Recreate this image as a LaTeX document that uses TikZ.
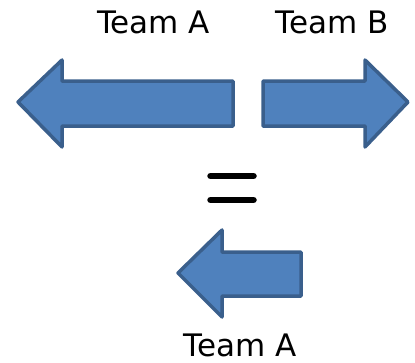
\documentclass[tikz,border=0pt]{standalone}
\usepackage{fontspec}
\setmainfont{DejaVu Sans}
\definecolor{arrowfill}{HTML}{4F81BD}
\definecolor{arrowline}{HTML}{3A5F8C}
\tikzset{
  arrowshape/.style={fill=arrowfill, draw=arrowline, line width=3.5pt, line join=round},
  teamlabel/.style={anchor=base, inner sep=0pt, text depth=0pt, font=\fontsize{31}{36}\selectfont},
  eqbar/.style={line width=6.5pt, line cap=round}
}
\begin{document}
\begin{tikzpicture}[x=1pt, y=-1pt]
  \useasboundingbox (0,0) rectangle (415,362);

  % labels
  \node[teamlabel] (teamA) at (153.5,33) {Team A};
  \node[teamlabel] (teamB) at (332.5,33) {Team B};
  \node[teamlabel] (teamAbottom) at (240,356) {Team A};

  % top arrows
  \draw[arrowshape] (18,102) -- (62,60) -- (62,81) -- (233,81) -- (233,126)
    -- (62,126) -- (62,147) -- cycle;
  \draw[arrowshape] (408,102) -- (365,60) -- (365,81) -- (263,81) -- (263,126)
    -- (365,126) -- (365,147) -- cycle;

  % equals sign
  \coordinate (eqL1) at (210.5,176);
  \coordinate (eqR1) at (253.5,176);
  \coordinate (eqL2) at (210.5,200);
  \coordinate (eqR2) at (253.5,200);
  \draw[eqbar] (eqL1) -- (eqR1);
  \draw[eqbar] (eqL2) -- (eqR2);

  % bottom arrow
  \draw[arrowshape] (178,273) -- (222,230) -- (222,252) -- (301,252) -- (301,296)
    -- (222,296) -- (222,317) -- cycle;
\end{tikzpicture}
\end{document}
